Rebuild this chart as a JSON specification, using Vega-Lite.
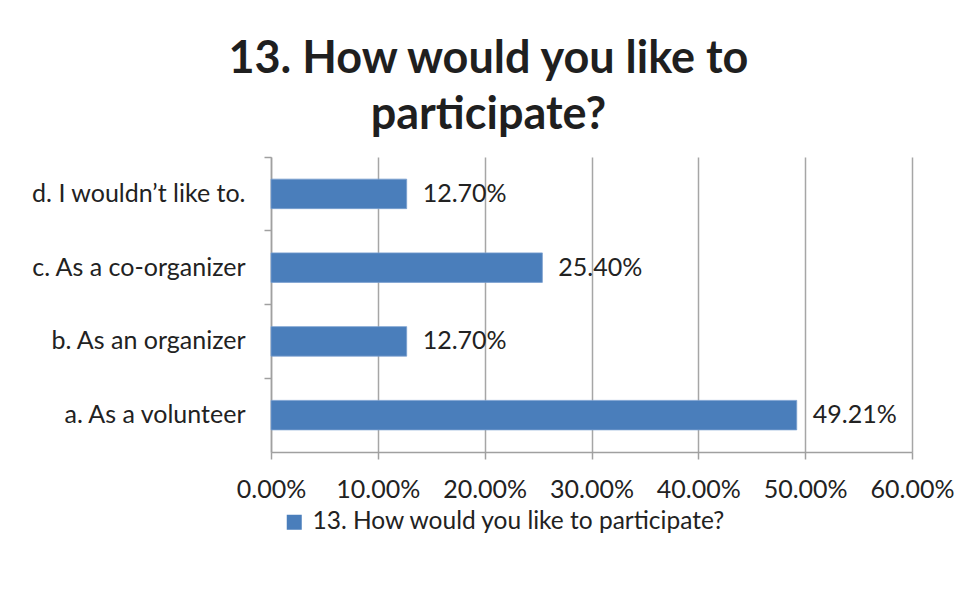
{
  "$schema": "https://vega.github.io/schema/vega-lite/v6.json",
  "width": 641,
  "height": 295,
  "padding": {"left": 30, "top": 37, "right": 4, "bottom": 10},
  "background": "white",
  "title": {
    "text": ["13. How would you like to", "participate?"],
    "fontSize": 45,
    "font": "Lato",
    "fontWeight": "bold",
    "color": "#1f1f1f",
    "lineHeight": 56,
    "anchor": "middle",
    "frame": "bounds",
    "dx": -4,
    "offset": 18
  },
  "data": {
    "values": [
      {"answer": "d. I wouldn’t like to.", "share": 0.127},
      {"answer": "c. As a co-organizer", "share": 0.254},
      {"answer": "b. As an organizer", "share": 0.127},
      {"answer": "a. As a volunteer", "share": 0.4921}
    ]
  },
  "encoding": {
    "y": {
      "field": "answer",
      "type": "nominal",
      "sort": "descending",
      "scale": {"paddingInner": 0, "paddingOuter": 0},
      "axis": {
        "title": null,
        "bandPosition": 0,
        "labelFont": "Lato",
        "labelFontSize": 25,
        "labelColor": "#222222",
        "labelPadding": 19,
        "labelLimit": 0,
        "tickSize": 7,
        "tickColor": "#a0a0a0",
        "domainColor": "#a0a0a0",
        "tickWidth": 1.5,
        "domainWidth": 1.5,
        "grid": false
      }
    },
    "x": {
      "field": "share",
      "type": "quantitative",
      "scale": {"domain": [0, 0.6], "nice": false},
      "axis": {
        "title": null,
        "format": ".2%",
        "values": [0, 0.1, 0.2, 0.3, 0.4, 0.5, 0.6],
        "labelOverlap": false,
        "labelFlush": false,
        "labelFont": "Lato",
        "labelFontSize": 25,
        "labelColor": "#222222",
        "labelPadding": 18,
        "tickSize": 7,
        "tickColor": "#a0a0a0",
        "domainColor": "#a0a0a0",
        "tickWidth": 1.5,
        "domainWidth": 1.5,
        "grid": true,
        "gridColor": "#a6a6a6",
        "gridWidth": 1.5
      }
    }
  },
  "layer": [
    {
      "mark": {"type": "bar", "height": {"band": 0.4}, "stroke": "#7aa0cf", "strokeWidth": 0.8},
      "encoding": {
        "color": {
          "datum": "13. How would you like to participate?",
          "scale": {"range": ["#4a7ebb"]},
          "legend": {
            "title": null,
            "orient": "none",
            "legendX": 11,
            "legendY": 353,
            "symbolType": "square",
            "symbolSize": 225,
            "symbolStrokeWidth": 0,
            "labelFont": "Lato",
            "labelFontSize": 24.5,
            "labelColor": "#222222",
            "labelOffset": 6,
            "labelLimit": 0,
            "padding": 0
          }
        }
      }
    },
    {
      "mark": {"type": "text", "align": "left", "baseline": "middle", "dx": 16, "font": "Lato", "fontSize": 25, "color": "#222222"},
      "encoding": {
        "text": {"field": "share", "type": "quantitative", "format": ".2%"}
      }
    }
  ],
  "config": {"view": {"stroke": null}}
}
